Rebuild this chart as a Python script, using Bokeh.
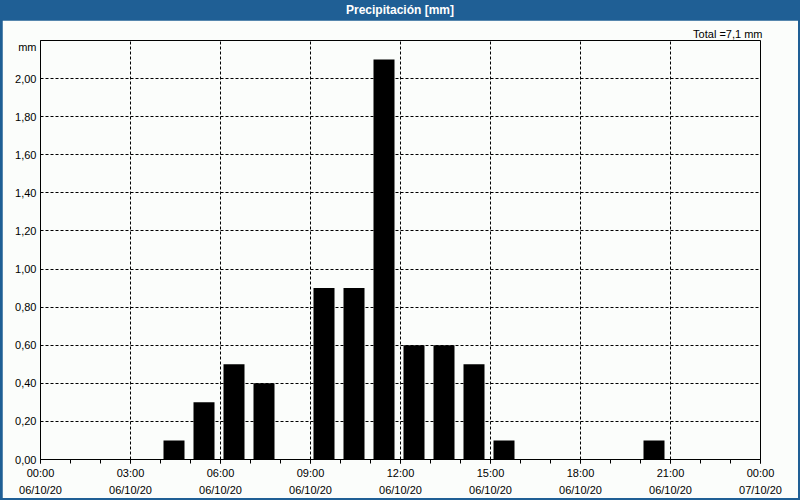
from bokeh.plotting import figure
from bokeh.models import FixedTicker, Div, Range1d
from bokeh.layouts import column
from bokeh.embed import file_html
from bokeh.resources import INLINE

# ---- data ----
hours = list(range(24))
precip = [0, 0, 0, 0, 0.1, 0.3, 0.5, 0.4, 0, 0.9, 0.9, 2.1,
          0.6, 0.6, 0.5, 0.1, 0, 0, 0, 0, 0.1, 0, 0, 0]
x_ticks = [0, 3, 6, 9, 12, 15, 18, 21, 24]
x_tick_labels = ["00:00\n06/10/20", "03:00\n06/10/20", "06:00\n06/10/20",
                 "09:00\n06/10/20", "12:00\n06/10/20", "15:00\n06/10/20",
                 "18:00\n06/10/20", "21:00\n06/10/20", "00:00\n07/10/20"]
y_ticks = [0.0, 0.2, 0.4, 0.6, 0.8, 1.0, 1.2, 1.4, 1.6, 1.8, 2.0]
y_tick_labels = ["0,00", "0,20", "0,40", "0,60", "0,80", "1,00",
                 "1,20", "1,40", "1,60", "1,80", "2,00"]
title_text = "Precipitación [mm]"
unit_text = "mm"
unit_pos = 2.168  # where the unit caption sits on the y axis

BLUE = "#1f5f95"
BG = "#fbfdfb"
FONT = "Liberation Sans"

total = sum(precip)
total_text = "Total =" + f"{total:.1f}".replace(".", ",") + " mm"

p = figure(width=796, height=478, output_backend="svg", toolbar_location=None,
           x_range=Range1d(0, 24), y_range=Range1d(0, 2.2),
           min_border_left=38, min_border_right=38, min_border_top=20,
           min_border_bottom=37, background_fill_color=BG,
           border_fill_color=BG, margin=(0, 2, 2, 2), title=total_text)
p.outline_line_color = "black"
p.outline_line_width = 1
p.outline_line_alpha = 1

p.title.align = "right"
p.title.text_font = FONT
p.title.text_font_size = "11px"
p.title.text_font_style = "normal"
p.title.text_color = "black"
p.title.standoff = 2
p.title.offset = -2

# bars occupy [h+0.1, h+0.8] within each hour
bar_x = [h + 0.45 for h in hours]
p.vbar(x=bar_x, top=precip, width=0.7, bottom=0, fill_color="black",
       line_color="black", line_width=0)

# x axis
xa = p.xaxis[0]
xa.ticker = FixedTicker(ticks=x_ticks, minor_ticks=hours + [24])
xa.major_label_overrides = {t: l for t, l in zip(x_ticks, x_tick_labels)}
xa.major_tick_in = 0
xa.major_tick_out = 4
xa.minor_tick_in = 0
xa.minor_tick_out = 4
xa.major_label_standoff = 3
xa.major_label_text_font = FONT
xa.major_label_text_font_size = "11px"
xa.major_label_text_color = "black"
xa.major_label_text_line_height = 1.45
xa.axis_line_color = "black"
xa.major_tick_line_color = "black"
xa.minor_tick_line_color = "black"

# y axis (unit caption shown as a label at the top of the axis)
ya = p.yaxis[0]
ya.ticker = FixedTicker(ticks=y_ticks + [unit_pos])
overrides = {t: l for t, l in zip(y_ticks, y_tick_labels)}
overrides[unit_pos] = unit_text
ya.major_label_overrides = overrides
ya.major_tick_in = 0
ya.major_tick_out = 0
ya.minor_tick_line_color = None
ya.major_label_standoff = 4
ya.major_label_text_font = FONT
ya.major_label_text_font_size = "11px"
ya.major_label_text_color = "black"
ya.axis_line_color = "black"

# grid
p.xgrid.ticker = FixedTicker(ticks=x_ticks)
p.ygrid.ticker = FixedTicker(ticks=y_ticks)
for g in (p.xgrid[0], p.ygrid[0]):
    g.grid_line_color = "black"
    g.grid_line_dash = "3 2"
    g.grid_line_width = 1
    g.grid_line_alpha = 1

title = Div(text=title_text, width=800, height=20, margin=(0, 0, 0, 0),
            styles={"background-color": BLUE, "color": "white",
                    "font-weight": "bold", "text-align": "center",
                    "font-family": FONT, "font-size": "12px",
                    "line-height": "20px", "width": "800px",
                    "height": "20px"})

layout = column(title, p, spacing=0, width=800, height=500,
                styles={"background-color": BLUE})

open("out.html", "w").write(file_html(layout, INLINE))
